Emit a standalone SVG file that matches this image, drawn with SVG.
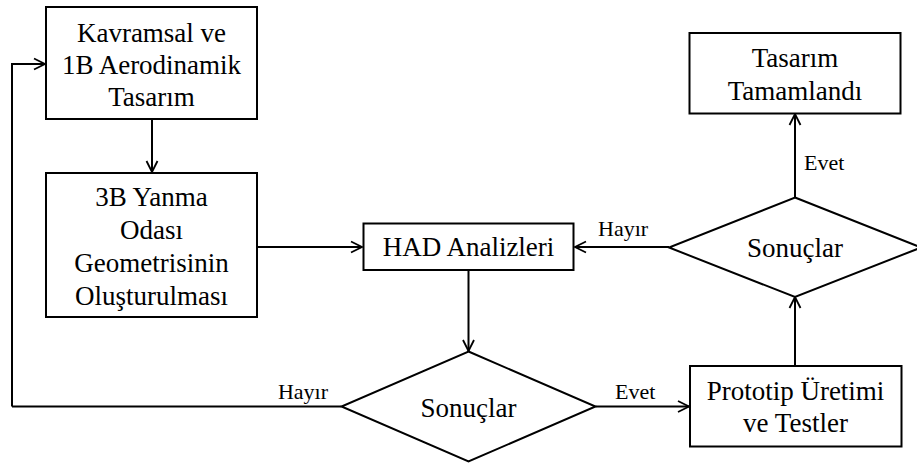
<svg xmlns="http://www.w3.org/2000/svg" width="917" height="463" viewBox="0 0 917 463">
<defs>
<marker id="arr" markerUnits="userSpaceOnUse" markerWidth="14" markerHeight="14" refX="11" refY="6" orient="auto" overflow="visible">
<path d="M0,0.5 L11,6 L0,11.5" fill="none" stroke="#000" stroke-width="1.8"/>
</marker>
<style>
.box{fill:#fff;stroke:#000;stroke-width:2}
.t{font-family:"Liberation Serif","Times New Roman",serif;font-size:27px;fill:#000;text-anchor:middle}
.lb{font-family:"Liberation Serif","Times New Roman",serif;font-size:22px;fill:#000}
.c{fill:none;stroke:#000;stroke-width:2}
</style>
</defs>
<rect width="917" height="463" fill="#fff"/>
<g id="connectors">
<path class="c" d="M12,406.5 L12,64 L45,64" marker-end="url(#arr)"/>
<path class="c" d="M341.5,406.5 L12,406.5"/>
<path class="c" d="M152,119 L152,172" marker-end="url(#arr)"/>
<path class="c" d="M257,247 L362,247" marker-end="url(#arr)"/>
<path class="c" d="M468.5,270 L468.5,351" marker-end="url(#arr)"/>
<path class="c" d="M595.5,406.5 L689,406.5" marker-end="url(#arr)"/>
<path class="c" d="M795,366 L795,297" marker-end="url(#arr)"/>
<path class="c" d="M669,247 L575,247" marker-end="url(#arr)"/>
<path class="c" d="M795,197 L795,114" marker-end="url(#arr)"/>
<text class="lb" x="328" y="399" text-anchor="end">Hayır</text>
<text class="lb" x="615" y="399">Evet</text>
<text class="lb" x="598" y="236">Hayır</text>
<text class="lb" x="804" y="170">Evet</text>
</g>
<g id="n1">
<rect class="box" x="46" y="7" width="211" height="112"/>
<text class="t" x="151.5" y="41.5">Kavramsal ve</text>
<text class="t" x="151.5" y="74">1B Aerodinamik</text>
<text class="t" x="151.5" y="106">Tasarım</text>
</g>
<g id="n2">
<rect class="box" x="46" y="173" width="211" height="144"/>
<text class="t" x="151.5" y="206">3B Yanma</text>
<text class="t" x="151.5" y="239">Odası</text>
<text class="t" x="151.5" y="272">Geometrisinin</text>
<text class="t" x="151.5" y="305">Oluşturulması</text>
</g>
<g id="n3">
<rect class="box" x="363.5" y="223.5" width="210" height="46.5"/>
<text class="t" x="468.5" y="256">HAD Analizleri</text>
</g>
<g id="n4">
<polygon class="box" points="468.5,351.5 595.5,406.5 468.5,461.5 341.5,406.5"/>
<text class="t" x="468.5" y="417">Sonuçlar</text>
</g>
<g id="n5">
<rect class="box" x="690" y="366" width="211.5" height="80.5"/>
<text class="t" x="795.5" y="400">Prototip Üretimi</text>
<text class="t" x="795.5" y="432">ve Testler</text>
</g>
<g id="n6">
<polygon class="box" points="795,197.5 921,247.5 795,297 669,247.5"/>
<text class="t" x="795" y="257">Sonuçlar</text>
</g>
<g id="n7">
<rect class="box" x="689.5" y="33" width="211" height="80.5"/>
<text class="t" x="795" y="66.5">Tasarım</text>
<text class="t" x="795" y="100">Tamamlandı</text>
</g>
</svg>
